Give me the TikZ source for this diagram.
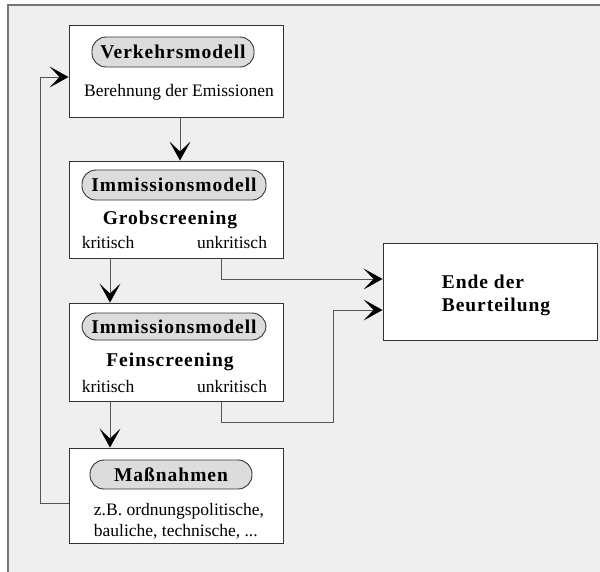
\documentclass[tikz,border=0pt]{standalone}
\usepackage{fontspec}
\setmainfont{Liberation Serif}
\usetikzlibrary{arrows.meta}
\definecolor{bgfill}{HTML}{EFEFEF}
\definecolor{pillfill}{HTML}{DCDCDC}
\definecolor{framegray}{HTML}{777777}
\definecolor{linegray}{HTML}{555555}
\newcommand{\fett}[1]{{\fontsize{19.5}{23}\selectfont\bfseries\addfontfeatures{LetterSpace=5}#1}}

\begin{document}
\begin{tikzpicture}[x=1pt, y=-1pt,
    box/.style={draw=black!80, fill=white, line width=0.9pt, minimum width=214pt, inner sep=0pt},
    pill/.style={draw=black!80, fill=pillfill, line width=0.9pt, rounded corners=14pt, inner sep=0pt},
    txt/.style={font=\fontsize{17.5}{21}\selectfont, inner sep=0pt},
    conn/.style={draw=linegray, line width=1pt, -{Stealth[length=19pt, width=21pt, inset=10pt, color=black]}}]
    \useasboundingbox (0,0) rectangle (600,571);

    % Rahmen
    \fill[bgfill] (8,5) rectangle (601,572);
    \draw[framegray, line width=1.5pt] (601,5) -- (8,5) -- (8,572);

    % Kaesten
    \node[box, minimum height=92pt] (box1) at (176,71) {};
    \node[box, minimum height=97pt] (box2) at (176,209.5) {};
    \node[box, minimum height=98pt] (box3) at (176,352) {};
    \node[box, minimum height=95pt] (box4) at (176,495.5) {};
    \node[box, minimum height=97pt] (ende) at (490,291.5) {};

    % Modelle
    \node[pill, minimum width=162pt, minimum height=30pt] (pill1) at (173,52) {\fett{Verkehrsmodell}};
    \node[pill, minimum width=184pt, minimum height=30pt] (pill2) at (174,185) {\fett{Immissionsmodell}};
    \node[pill, minimum width=184pt, minimum height=27pt] (pill3) at (174,326.5) {\fett{Immissionsmodell}};
    \node[pill, minimum width=162pt, minimum height=29pt] (pill4) at (171,474.5) {\fett{Maßnahmen}};

    % Texte
    \node[txt] (emis) at (179,92) {Berehnung der Emissionen};
    \node[txt] (grob) at (170,220) {\fett{Grobscreening}};
    \node[txt] (krit1) at (108,243) {kritisch};
    \node[txt] (unkrit1) at (232,243) {unkritisch};
    \node[txt] (fein) at (170,362) {\fett{Feinscreening}};
    \node[txt] (krit2) at (108,387) {kritisch};
    \node[txt] (unkrit2) at (232,387) {unkritisch};
    \node[txt, align=left] (mass) at (179,521) {z.B. ordnungspolitische,\\bauliche, technische, ...};
    \node[txt, align=left] (endtxt) at (496,295) {\fett{Ende der}\\[2pt]\fett{Beurteilung}};

    % Verbindungen
    \coordinate (knick) at (333,422);
    \coordinate (rueck) at (40,503);
    \draw[conn] ([xshift=4pt]box1.south) -- ([xshift=4pt]box2.north);
    \draw[conn] ([xshift=-66pt]box2.south) -- ([xshift=-66pt]box3.north);
    \draw[conn] ([xshift=-66pt]box3.south) -- ([xshift=-66pt]box4.north);
    \draw[conn] ([xshift=45pt]box2.south) |- ([yshift=12.5pt]ende.west);
    \draw[conn] ([xshift=45pt]box3.south) |- (knick) |- ([yshift=-18.5pt]ende.west);
    \draw[conn] ([yshift=-7.5pt]box4.west) -- (rueck) |- ([yshift=-6pt]box1.west);
\end{tikzpicture}
\end{document}
